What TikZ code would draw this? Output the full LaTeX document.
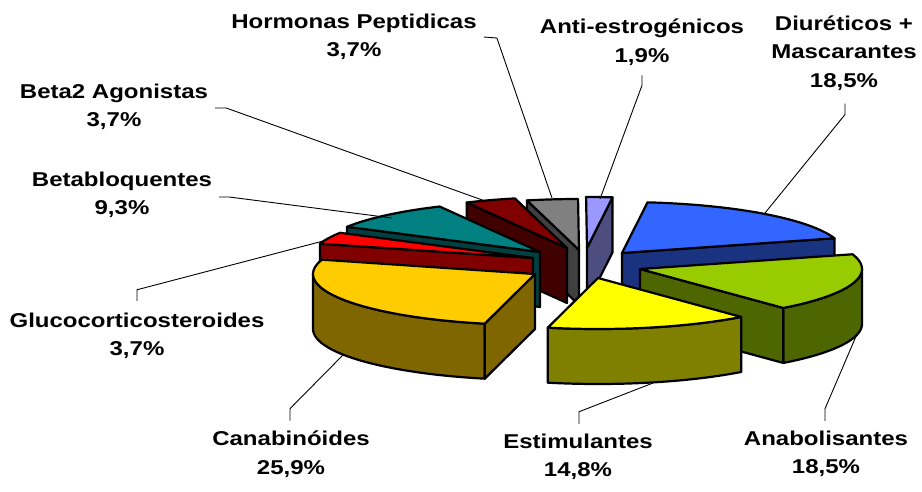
\documentclass[tikz,border=0pt]{standalone}
\usepackage{fontspec}
\setmainfont[FakeStretch=1.2]{Liberation Sans}
\newcommand\PieA{222}
\newcommand\PieB{51}
\newcommand\PieH{55}
\tikzset{
  pieline/.style={draw=black,line width=2.2pt,line join=round},
  leader/.style={draw=black,line width=0.9pt},
  lbl/.style={align=center,inner sep=2pt,font=\fontsize{20}{28.5}\bfseries\selectfont}
}
% top face: cx cy t1 t2 colour
\newcommand\PieTop[5]{\filldraw[pieline,fill=#5] (#1,#2) -- plot[domain=#3:#4,samples=40] ({#1+\PieA*cos(\x)},{#2+\PieB*sin(\x)}) -- cycle;}
% cut face: cx cy t colour
\newcommand\PieCut[4]{\filldraw[pieline,fill=#4] (#1,#2) -- ({#1+\PieA*cos(#3)},{#2+\PieB*sin(#3)}) -- ++(0,\PieH) -- ({#1},{#2+\PieH}) -- cycle;}
% outer side: cx cy u1 u2 colour
\newcommand\PieSide[5]{\filldraw[pieline,fill=#5] plot[domain=#3:#4,samples=30] ({#1+\PieA*cos(\x)},{#2+\PieB*sin(\x)}) -- plot[domain=#4:#3,samples=30] ({#1+\PieA*cos(\x)},{#2+\PieH+\PieB*sin(\x)}) -- cycle;}
\definecolor{anaT}{HTML}{99CC00}\definecolor{anaS}{HTML}{4D6600}
\definecolor{estT}{HTML}{FFFF00}\definecolor{estS}{HTML}{808000}
\definecolor{canT}{HTML}{FFCC00}\definecolor{canS}{HTML}{806600}
\definecolor{gluT}{HTML}{FF0000}\definecolor{gluS}{HTML}{800000}
\definecolor{bbqT}{HTML}{008080}\definecolor{bbqS}{HTML}{004040}
\definecolor{btwT}{HTML}{800000}\definecolor{btwS}{HTML}{400000}
\definecolor{horT}{HTML}{808080}\definecolor{horS}{HTML}{404040}
\definecolor{antT}{HTML}{9999FF}\definecolor{antS}{HTML}{4D4D80}
\definecolor{diuT}{HTML}{3366FF}\definecolor{diuS}{HTML}{1A3380}
\begin{document}
\begin{tikzpicture}[x=1pt,y=-1pt]
\useasboundingbox[fill=white] (0,0) rectangle (922,491);
% Anti-estrogenicos
\PieCut{587}{248}{276.6}{antS}
\PieTop{587}{248}{269.76}{276.6}{antT}
% Hormonas
\PieCut{579}{250}{256.44}{horS}
\PieTop{579}{250}{256.44}{269.76}{horT}
% Beta2
\PieCut{567}{248}{243.12}{btwS}
\PieTop{567}{248}{243.12}{256.44}{btwT}
% Betabloquentes
\PieCut{540}{252}{209.64}{bbqS}
\PieTop{540}{252}{209.64}{243.12}{bbqT}
% Glucocorticosteroides
\PieCut{533}{258}{196.32}{gluS}
\PieTop{533}{258}{196.32}{209.64}{gluT}
% Canabinoides
\PieSide{535}{274}{103.08}{180}{canS}
\PieCut{535}{274}{103.08}{canS}
\PieTop{535}{274}{103.08}{196.32}{canT}
% Diureticos
\PieCut{622}{253}{343.2}{diuS}
\PieTop{622}{253}{276.6}{343.2}{diuT}
% Anabolisantes
\PieSide{640}{269}{0}{49.8}{anaS}
\PieCut{640}{269}{49.8}{anaS}
\PieTop{640}{269}{-16.8}{49.8}{anaT}
% Estimulantes
\PieSide{598}{278}{49.8}{103.08}{estS}
\PieTop{598}{278}{49.8}{103.08}{estT}

% leader end points
\coordinate (hpE) at (552,198);
\coordinate (aeE) at (600,199);
\coordinate (dmE) at (765,213);
\coordinate (b2E) at (485,201);
\coordinate (bbE) at (392,218);
\coordinate (glE) at (327,240);
\coordinate (caE) at (343,355);
\coordinate (esE) at (653,383);
\coordinate (anE) at (857,334);

% labels
\node[lbl] (hp) at (354,37) {Hormonas Peptidicas\\3,7\%};
\node[lbl] (ae) at (642,42) {Anti-estrogénicos\\1,9\%};
\node[lbl] (dm) at (844,53) {Diuréticos +\\Mascarantes\\18,5\%};
\node[lbl] (b2) at (114,107) {Beta2 Agonistas\\3,7\%};
\node[lbl] (bb) at (122,195) {Betabloquentes\\9,3\%};
\node[lbl] (gl) at (137,336) {Glucocorticosteroides\\3,7\%};
\node[lbl] (ca) at (291,454) {Canabinóides\\25,9\%};
\node[lbl] (es) at (578,457) {Estimulantes\\14,8\%};
\node[lbl] (an) at (826,454) {Anabolisantes\\18,5\%};

% leaders
\draw[leader] (hp.east) ++(5,0) -- ++(13,1) -- (hpE);
\draw[leader] (ae.south) ++(0,8) -- ++(0,10) -- (aeE);
\draw[leader] (dm.south) ++(1,11) -- ++(0,11) -- (dmE);
\draw[leader] (b2.east) ++(5,1) -- ++(11,0) -- (b2E);
\draw[leader] (bb.east) ++(5,2) -- ++(10,0) -- (bbE);
\draw[leader] (gl.north) ++(0,-10) -- ++(0,-11) -- (glE);
\draw[leader] (ca.north) ++(-1,-8) -- ++(0,-12) -- (caE);
\draw[leader] (es.north) ++(1,-8) -- ++(0,-12) -- (esE);
\draw[leader] (an.north) ++(-1,-8) -- ++(0,-12) -- (anE);
\end{tikzpicture}
\end{document}
